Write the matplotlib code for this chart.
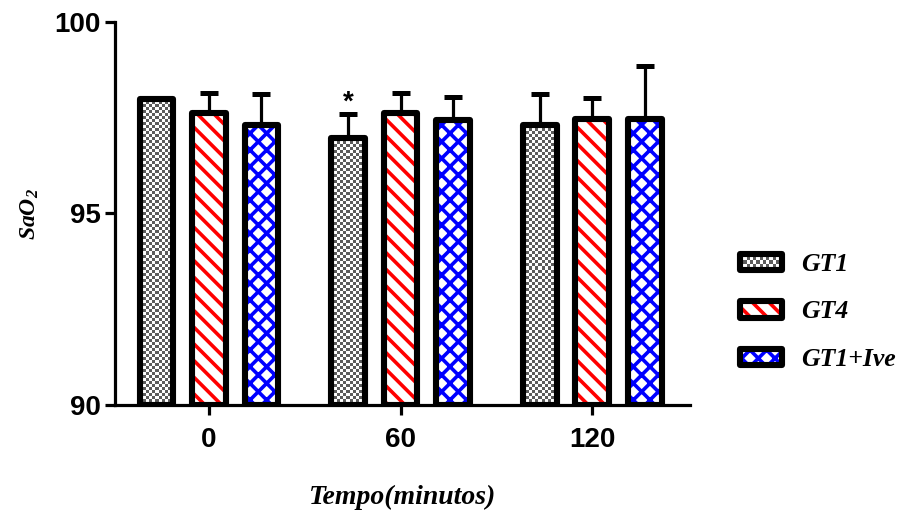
import numpy as np
import matplotlib
matplotlib.use("Agg")
import matplotlib.pyplot as plt
from matplotlib.patches import Rectangle
from matplotlib.colors import ListedColormap

# dados (médias e erro padrão, só a parte de cima)
tempos = ['0', '60', '120']
grupos = ['GT1', 'GT4', 'GT1+Ive']
gt1 = [98.0, 96.97, 97.3]
gt4 = [97.63, 97.63, 97.47]
gt1_ive = [97.3, 97.45, 97.47]
gt1_err = [0.0, 0.63, 0.82]
gt4_err = [0.52, 0.52, 0.55]
gt1_ive_err = [0.82, 0.58, 1.38]
asterisco = [False, True, False]   # marca em GT1

plt.rcParams['font.family'] = 'Liberation Sans'
plt.rcParams['hatch.linewidth'] = 2.6
plt.rcParams['mathtext.fontset'] = 'custom'
plt.rcParams['mathtext.rm'] = 'Liberation Serif:italic:bold'
plt.rcParams['mathtext.it'] = 'Liberation Serif:italic:bold'

fig = plt.figure(figsize=(9.03, 5.26), dpi=100)
ax = fig.add_axes([115/903, 1 - 405/526, 575/903, 383/526])
ax.set_xlim(-0.49, 2.51)
ax.set_ylim(90, 100)

x = np.arange(len(tempos))
larg = 0.175
passo = 0.274
lw_barra = 4.4

estilos = [
    (gt1, gt1_err, None, None),
    (gt4, gt4_err, '\\\\', 'red'),
    (gt1_ive, gt1_ive_err, 'xx', 'blue'),
]

for i, (vals, errs, hatch, cor) in enumerate(estilos):
    xs = x + (i - 1) * passo
    base = [v - 90 for v in vals]
    if hatch is not None:
        ax.bar(xs, base, larg, bottom=90, color='white', edgecolor=cor,
               hatch=hatch, linewidth=0, zorder=2)
    else:
        # padrão xadrez para GT1
        ret = ax.bar(xs, base, larg, bottom=90, color='white', linewidth=0, zorder=2)
        cmap = ListedColormap(['white', '#5c5c5c'])
        for r in ret:
            x0, y0 = r.get_x(), r.get_y()
            x1, y1 = x0 + r.get_width(), y0 + r.get_height()
            p0 = ax.transData.transform((x0, y0))
            p1 = ax.transData.transform((x1, y1))
            nx = max(1, int(round((p1[0] - p0[0]) / 3)))
            ny = max(1, int(round((p1[1] - p0[1]) / 3)))
            xadrez = np.add.outer(np.arange(ny), np.arange(nx)) % 2
            ax.imshow(xadrez, cmap=cmap, extent=(x0, x1, y0, y1),
                      interpolation='nearest', aspect='auto', zorder=2)
    ax.errorbar(xs, vals, yerr=[np.zeros(len(errs)), errs], fmt='none',
                ecolor='black', elinewidth=2.3, capsize=6.8, capthick=3.6, zorder=2.5)
    ax.bar(xs, base, larg, bottom=90, fill=False, edgecolor='black',
           linewidth=lw_barra, joinstyle='round', zorder=3)

for j, m in enumerate(asterisco):
    if m:
        ax.text(x[j] - passo, gt1[j] + gt1_err[j] - 0.05, '*', ha='center',
                va='bottom', fontsize=20, fontweight='bold')

ax.set_xlim(-0.49, 2.51)
ax.set_ylim(90, 100)

ax.set_xticks(x)
ax.set_xticklabels(tempos)
ax.set_yticks([90, 95, 100])
for lab in ax.get_xticklabels() + ax.get_yticklabels():
    lab.set_fontweight('bold')
    lab.set_fontsize(20)
ax.tick_params(axis='both', direction='out', length=7, width=2.3)
ax.tick_params(axis='x', pad=9)
ax.tick_params(axis='y', pad=3)

for s in ['top', 'right']:
    ax.spines[s].set_visible(False)
for s in ['left', 'bottom']:
    ax.spines[s].set_linewidth(2.3)

ax.set_ylabel(r'$\mathrm{SaO}_\mathrm{2}$', fontsize=17, labelpad=10)
ax.set_xlabel('Tempo(minutos)', fontsize=20, fontfamily='Liberation Serif',
              fontweight='bold', fontstyle='italic', labelpad=23)


class BarraLegenda:
    def __init__(self, hatch, cor):
        self.hatch = hatch
        self.cor = cor

    def legend_artist(self, legend, orig_handle, fontsize, handlebox):
        x0, y0 = -handlebox.xdescent, -handlebox.ydescent
        w, h = handlebox.width, handlebox.height
        tr = handlebox.get_transform()
        if self.hatch is None:
            c = 2.2
            nx, ny = int(w / c), int(h / c)
            for a in range(nx):
                for b in range(ny):
                    if (a + b) % 2:
                        handlebox.add_artist(Rectangle((x0 + a * w / nx, y0 + b * h / ny),
                                                       w / nx, h / ny, facecolor='#5c5c5c',
                                                       linewidth=0, transform=tr))
        else:
            handlebox.add_artist(Rectangle((x0, y0), w, h, facecolor='white',
                                           edgecolor=self.cor, hatch=self.hatch,
                                           linewidth=0, transform=tr))
        contorno = Rectangle((x0, y0), w, h, fill=False, edgecolor='black',
                             linewidth=lw_barra, joinstyle='round', transform=tr)
        handlebox.add_artist(contorno)
        return contorno


proxies = [Rectangle((0, 0), 1, 1) for _ in grupos]
handlers = {proxies[k]: BarraLegenda(estilos[k][2], estilos[k][3]) for k in range(3)}
fig.legend(proxies, grupos, handler_map=handlers, loc='center left',
           bbox_to_anchor=(740/903, 1 - 312/526), frameon=False, borderpad=0,
           borderaxespad=0, handlelength=1.65, handleheight=0.62, handletextpad=0.72,
           labelspacing=0.95,
           prop={'family': 'Liberation Serif', 'weight': 'bold', 'style': 'italic', 'size': 18.5})

fig.savefig('out.png', dpi=100)
